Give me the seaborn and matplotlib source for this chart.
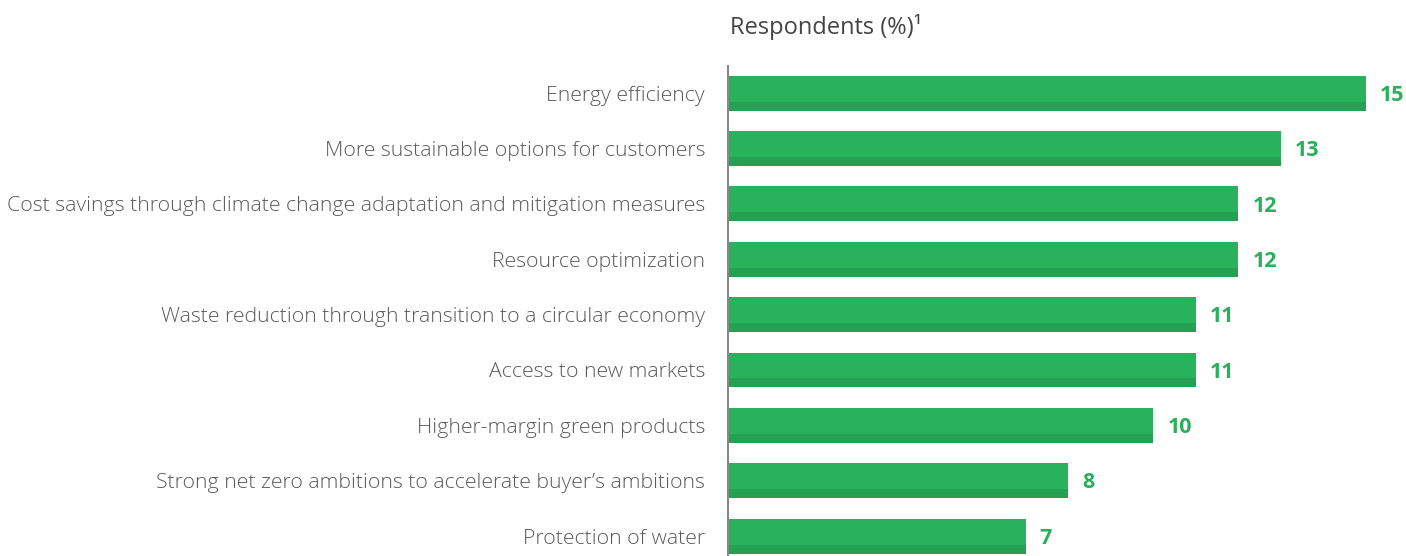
import matplotlib
matplotlib.use("Agg")
import matplotlib.pyplot as plt
import seaborn as sns
import numpy as np
import pandas as pd

categories = [
    "Energy efficiency",
    "More sustainable options for customers",
    "Cost savings through climate change adaptation and mitigation measures",
    "Resource optimization",
    "Waste reduction through transition to a circular economy",
    "Access to new markets",
    "Higher-margin green products",
    "Strong net zero ambitions to accelerate buyer\u2019s ambitions",
    "Protection of water",
]
values = [15, 13, 12, 12, 11, 11, 10, 8, 7]
title = "Respondents (%)\u00b9"

sns.set_theme(style="white")
plt.rcParams['font.family'] = ['Open Sans', 'DejaVu Sans']

df = pd.DataFrame({"cat": categories, "val": values})

fig = plt.figure(figsize=(14.06, 5.56), dpi=100)
ax = fig.add_axes([728/1406, 0, 1 - 728/1406, (556-66)/556])

green = "#27B25B"
dark = "#24A152"
bw = 0.63
sns.barplot(data=df, x="val", y="cat", orient="h", color=green, width=bw,
            saturation=1, linewidth=0, ax=ax)
strip = 9/55.375
ax.barh(np.arange(len(values)) + bw/2 - strip/2, values, height=strip,
        color=dark, linewidth=0)

ax.set_xlim(0, (1406-728)/42.53)
ax.set_ylim(8.36, -0.49)
ax.set_xlabel("")
ax.set_ylabel("")
ax.set_xticks([])
for s in ["top", "right", "bottom"]:
    ax.spines[s].set_visible(False)
ax.spines["left"].set_color("#888888")
ax.spines["left"].set_linewidth(1.5)
ax.tick_params(axis="y", length=0, pad=16.5)
for lab in ax.get_yticklabels():
    lab.set_fontsize(15.3)
    lab.set_color("#5a5a5a")
    lab.set_fontweight("light")

for i, v in enumerate(values):
    ax.text(v + 0.33, i + 0.04, str(v), va="center", ha="left", fontsize=15.5,
            fontweight="bold", color="#2AAF5B", clip_on=False)

fig.text(730/1406, 1 - 27/556, title, ha="left", va="center", fontsize=17,
         color="#444444")

fig.savefig("out.png", dpi=100)
